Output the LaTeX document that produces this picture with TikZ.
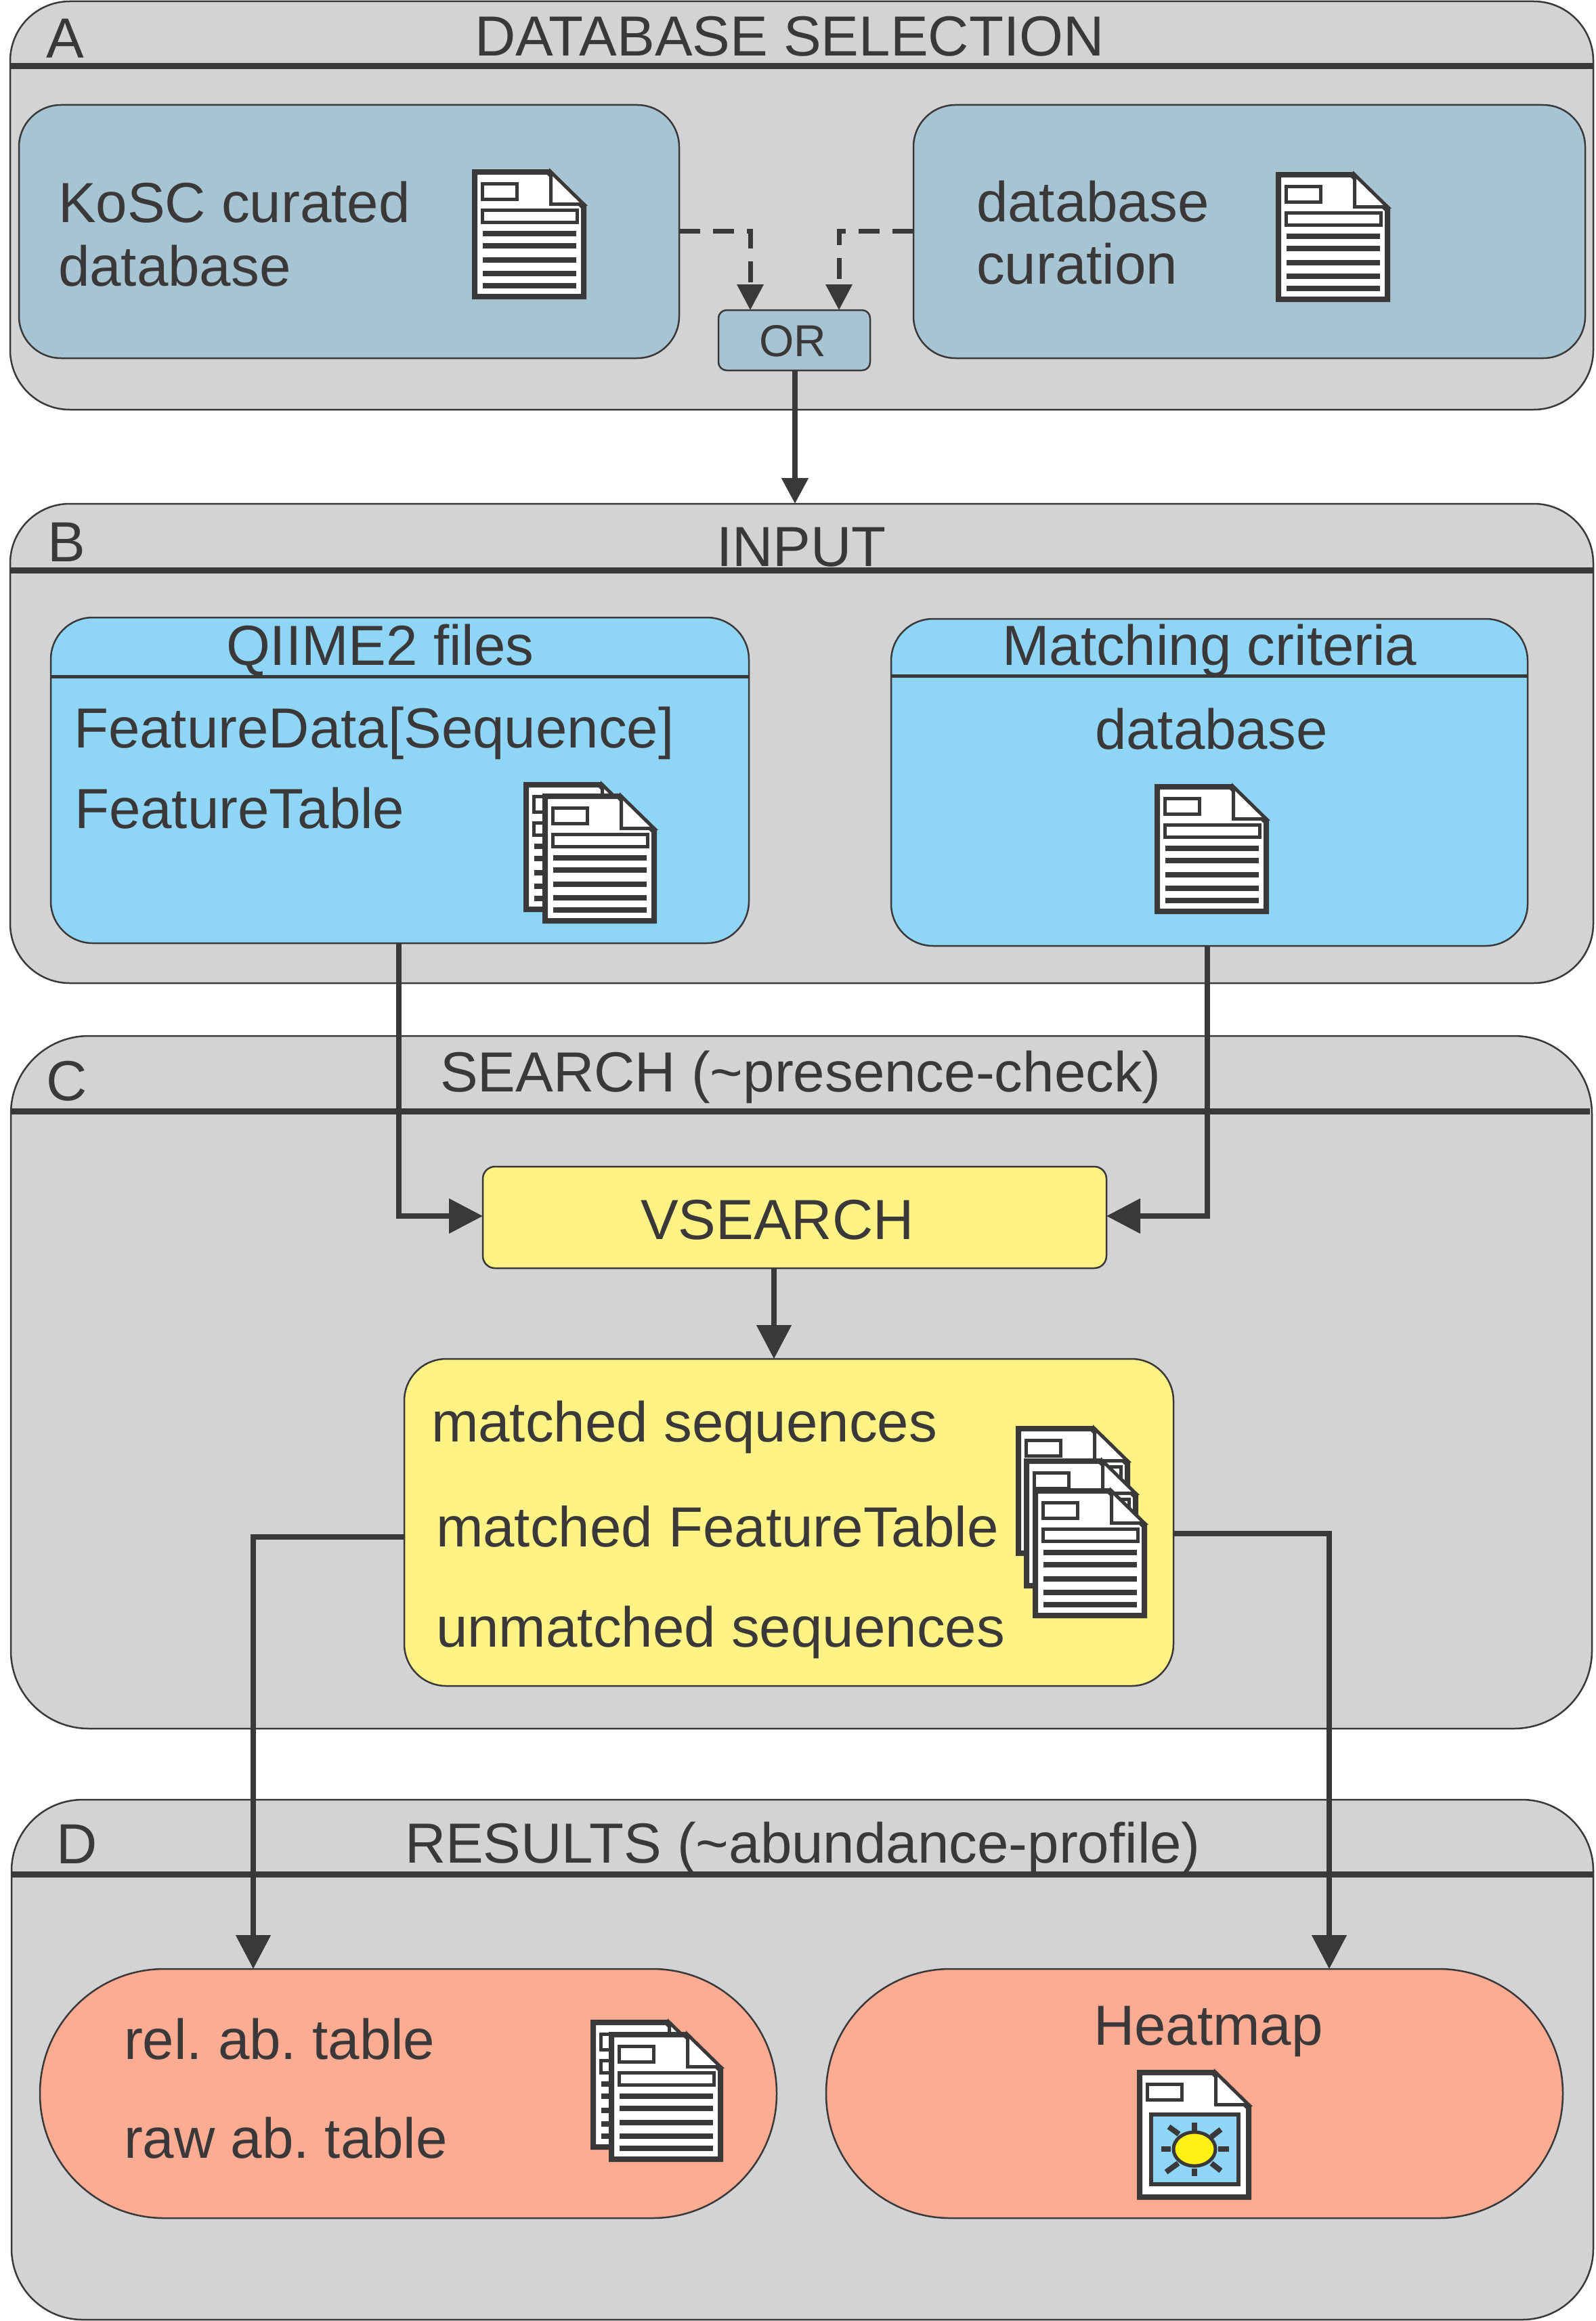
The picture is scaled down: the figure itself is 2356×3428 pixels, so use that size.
\documentclass[tikz,border=0pt]{standalone}
\usepackage{fontspec}
\setmainfont{Liberation Sans}
\usetikzlibrary{arrows.meta}
\definecolor{ink}{HTML}{3A3839}
\definecolor{panelgray}{HTML}{D1D3D4}
\definecolor{steel}{HTML}{A7C4D3}
\definecolor{sky}{HTML}{8FD6F6}
\definecolor{butter}{HTML}{FFF385}
\definecolor{salmon}{HTML}{FBAC92}
\definecolor{sun}{HTML}{FFF212}
\newcommand{\bx}[6]{\node[#1,minimum width={(#5-#3)*1pt},minimum height={(#6-#4)*1pt}] (#2) at ({(#3+#5)/2},{(#4+#6)/2}) {};}
\tikzset{
 basebox/.style={draw=ink,line width=2.5pt,inner sep=0pt,outer sep=0pt},
 panel/.style={basebox,fill=panelgray,rounded corners=88pt},
 panelmid/.style={basebox,fill=panelgray,rounded corners=105pt},
 panelbig/.style={basebox,fill=panelgray,rounded corners=115pt},
 steelbox/.style={basebox,fill=steel,rounded corners=62pt},
 skybox/.style={basebox,fill=sky,rounded corners=62pt},
 yelsmall/.style={basebox,fill=butter,rounded corners=18pt},
 yelbig/.style={basebox,fill=butter,rounded corners=62pt},
 orbox/.style={basebox,fill=steel,rounded corners=12pt},
 pill/.style={basebox,fill=salmon,rounded corners=183.5pt},
 headline/.style={draw=ink,line width=9pt},
 subline/.style={draw=ink,line width=5pt},
 txt/.style={anchor=base west,inner sep=0pt,outer sep=0pt,text=ink,font=\fontsize{83.5}{84}\selectfont\frenchspacing},
 orlabel/.style={txt,font=\fontsize{66}{66}\selectfont},
 conn/.style={draw=ink,line width=8pt,-{Triangle[length=38pt,width=38pt]}},
 connbig/.style={draw=ink,line width=8pt,-{Triangle[length=50pt,width=50pt]}},
 dashconn/.style={conn,line width=7pt,dash pattern=on 31pt off 19pt},
 docshell/.pic={
  \draw[ink,line width=8pt,fill=white,miter limit=10] (4,4) -- (112.5,4) -- (165,56) -- (165,188) -- (4,188) -- cycle;
  \draw[ink,line width=5pt,fill=white] (116.5,4) -- (116.5,51.5) -- (165,51.5) -- cycle;
  \draw[ink,line width=5pt,fill=white] (15,21.5) rectangle (66.5,44.5);
 },
 doclines/.pic={
  \draw[ink,line width=5pt,fill=white] (15,60.5) rectangle (155.5,78.5);
  \foreach \yy in {95,113,134,154,172} {\draw[ink,line width=8pt] (16,\yy) -- (154,\yy);}
 },
 docicon/.pic={\pic {docshell}; \pic {doclines};},
 sunicon/.pic={
  \pic {docshell};
  \draw[ink,line width=6pt,fill=sky] (20.5,65.5) rectangle (150,169);
  \draw[ink,line width=5pt,fill=sun] (85,117) ellipse [x radius=31,y radius=25];
  \foreach \xa/\ya/\xb/\yb in {85/78/85/90,85/146/85/157,36/117/50/117,120/117/136/117,47/84/62/95,110/99/124/88,61/138/43/151,110/138/124/149}
   {\draw[ink,line width=8pt] (\xa,\ya) -- (\xb,\yb);}
 },
}
\begin{document}
\begin{tikzpicture}[x=1pt,y=-1pt]
\useasboundingbox (0,0) rectangle (2356,3428);
% panels
\bx{panel}{panelA}{15}{2}{2353}{605}
\bx{panel}{panelB}{15}{744}{2353}{1452}
\bx{panelbig}{panelC}{16}{1530}{2351}{2553}
\bx{panelmid}{panelD}{17}{2658}{2353}{3426}
\draw[headline] (15,98) -- (2353,98);
\draw[headline] (15,842) -- (2353,842);
\draw[headline] (16,1641) -- (2348,1641);
\draw[headline] (17,2768) -- (2353,2768);
% inner boxes
\bx{steelbox}{kosc}{28}{155}{1003}{529}
\bx{steelbox}{curation}{1349}{155}{2341}{529}
\bx{orbox}{orb}{1061}{458}{1285}{547}
\bx{skybox}{qiime}{75}{912}{1106}{1393}
\bx{skybox}{criteria}{1316}{914}{2256}{1397}
\draw[subline] (75,999) -- (1106,999);
\draw[subline] (1316,998) -- (2256,998);
\bx{yelsmall}{vsearch}{713}{1723}{1634}{1873}
\bx{yelbig}{results}{597}{2007}{1733}{2490}
\bx{pill}{relab}{59}{2908}{1147}{3276}
\bx{pill}{heat}{1220}{2908}{2308}{3276}
% connector guides
\coordinate (dl) at (1108,341);
\coordinate (dr) at (1239,341);
\coordinate (orout) at (1174,547);
\coordinate (q1) at (589,1796);
\coordinate (c1) at (1783,1796);
\coordinate (v1) at (1143,1873);
\coordinate (r1) at (374,2270);
\coordinate (r2) at (1963,2265);
% connectors
\draw[dashconn] (kosc.east |- dl) -| (orb.north -| dl);
\draw[dashconn] (curation.west |- dr) -| (orb.north -| dr);
\draw[conn] (orout) -- (panelB.north -| orout);
\draw[connbig] (qiime.south -| q1) |- (vsearch.west |- q1);
\draw[connbig] (criteria.south -| c1) |- (vsearch.east |- c1);
\draw[connbig] (v1) -- (results.north -| v1);
\draw[connbig] (results.west |- r1) -| (relab.north -| r1);
\draw[connbig] (results.east |- r2) -| (heat.north -| r2);
% icons
\pic at (697,250) {docicon};
\pic at (1884,254) {docicon};
\pic at (773,1155) {docicon};
\pic at (801,1172) {docicon};
\pic at (1705,1158) {docicon};
\pic at (1500,2106) {docicon};
\pic at (1512,2154) {docicon};
\pic at (1525,2198) {docicon};
\pic at (872,2983) {docicon};
\pic at (899,3001) {docicon};
\pic at (1679,3057) {sunicon};
% text
\node[txt] (ta) at (68,86) {A};
\node[txt] (tah) at (701,83) {DATABASE SELECTION};
\node[txt] (t1) at (86,328) {KoSC curated};
\node[txt] (t2) at (86,422) {database};
\node[txt] (t3) at (1442,327) {database};
\node[txt] (t4) at (1442,419) {curation};
\node[orlabel] (t5) at (1121,526) {OR};
\node[txt] (tb) at (70,829) {B};
\node[txt] (tbh) at (1058,836) {INPUT};
\node[txt] (t6) at (334,982) {QIIME2 files};
\node[txt] (t7) at (1480,982) {Matching criteria};
\node[txt] (t8) at (109,1104) {FeatureData[Sequence]};
\node[txt] (t9) at (110,1223) {FeatureTable};
\node[txt] (t10) at (1617,1106) {database};
\node[txt] (tc) at (68,1625) {C};
\node[txt] (tch) at (650,1612) {SEARCH (\char`\~presence-check)};
\node[txt] (t11) at (946,1830) {VSEARCH};
\node[txt] (t12) at (637,2129) {matched sequences};
\node[txt] (t13) at (644,2284) {matched FeatureTable};
\node[txt] (t14) at (644,2432) {unmatched sequences};
\node[txt] (td) at (83,2752) {D};
\node[txt] (tdh) at (598,2751) {RESULTS (\char`\~abundance-profile)};
\node[txt] (t15) at (183,3041) {rel. ab. table};
\node[txt] (t16) at (183,3187) {raw ab. table};
\node[txt] (t17) at (1615,3020) {Heatmap};
\end{tikzpicture}
\end{document}
